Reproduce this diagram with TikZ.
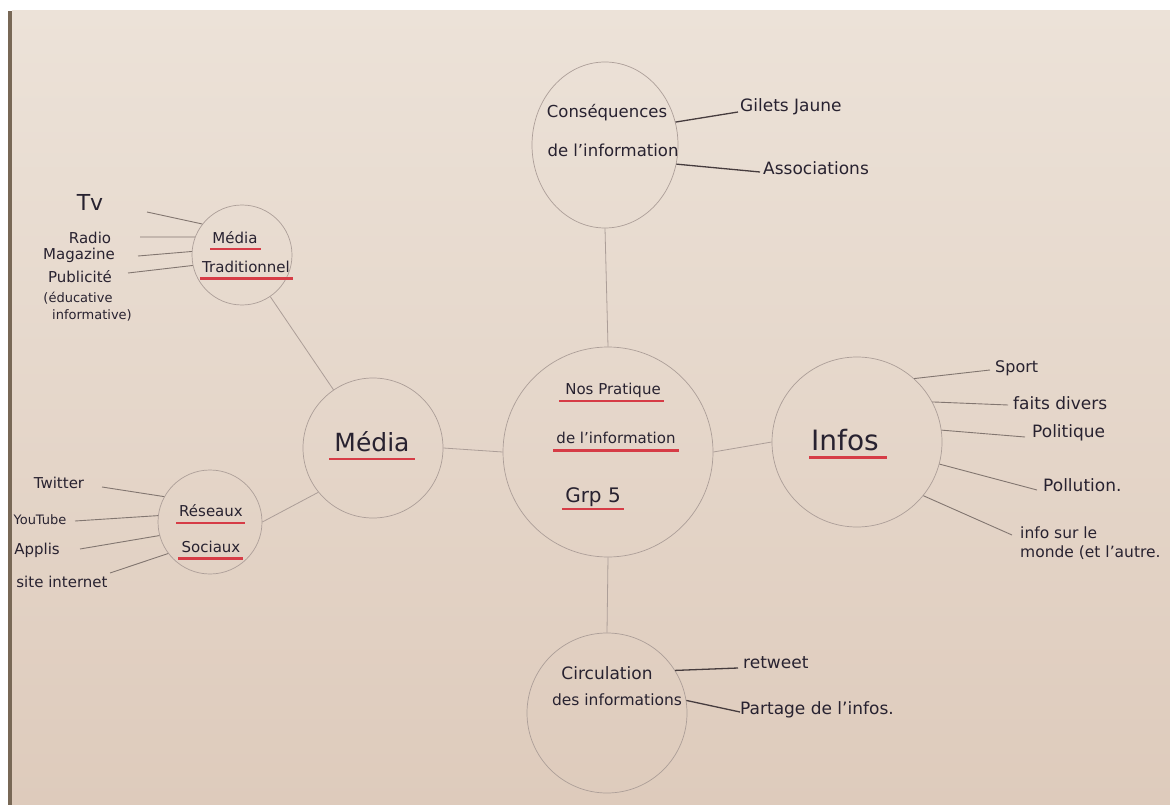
\documentclass[tikz,border=0pt]{standalone}
\usepackage{fontspec}
\setmainfont{DejaVu Sans}
\usetikzlibrary{calc,shapes.geometric}
\definecolor{paperT}{RGB}{236,226,216}
\definecolor{paperM}{RGB}{238,229,223}
\definecolor{paperB}{RGB}{222,203,188}
\definecolor{edgec}{RGB}{120,104,86}
\definecolor{circc}{RGB}{172,158,152}
\definecolor{leafc}{RGB}{130,118,112}
\definecolor{darkc}{RGB}{70,60,62}
\definecolor{inkc}{RGB}{40,34,48}
\definecolor{redc}{RGB}{214,60,70}
\newcommand\myfs[1]{\fontsize{#1}{#1}\selectfont}
\begin{document}
\begin{tikzpicture}[x=1pt,y=-1pt,
  circ/.style={circle, draw=circc, line width=0.7pt, inner sep=0pt, minimum size=#1},
  txt/.style={text=inkc, inner sep=0pt, font=\myfs{#1}},
  txt/.default=15,
  leaf/.style={draw=leafc, line width=0.9pt},
  dleaf/.style={draw=darkc, line width=1.3pt},
  link/.style={draw=circc, line width=0.8pt},
  redul/.style={draw=redc, line width=2.2pt}]
% background
\fill[white] (0,0) rectangle (1170,805);
\shade[top color=paperT, middle color=paperM, bottom color=paperB] (12,11) rectangle (1170,805);
\fill[edgec] (8,11) rectangle (12,805);
\useasboundingbox (0,0) rectangle (1170,805);

% circles
\node[circ=210] (C) at (608,452) {};
\node[ellipse, draw=circc, line width=0.7pt, inner sep=0pt, minimum width=146, minimum height=166] (K) at (605,145) {};
\node[circ=160] (Ci) at (607,713) {};
\node[circ=140] (Me) at (373,448) {};
\node[circ=100] (MT) at (242,255) {};
\node[circ=104] (RS) at (210,522) {};
\node[circ=170] (In) at (857,442) {};

% links between circles
\draw[link] (C.north) -- (K.south);
\draw[link] (C.south) -- (Ci.north);
\draw[link] (C.west) -- (Me.east);
\draw[link] (C.east) -- (In.west);
\draw[link] (MT) -- (Me);
\draw[link] (RS.east) -- (Me.219);

% central texts
\node[txt=15] (c1) at (613,390) {Nos Pratique};
\node[txt=15] (c2) at (616,438) {de l'information};
\node[txt=20] (c3) at (593,497) {Grp 5};
\draw[redul] ($(c1.base west)+(-6,7)$) -- ($(c1.base east)+(3,7)$);
\draw[redul] ($(c2.base west)+(-3,7)$) -- ($(c2.base east)+(3,7)$);
\draw[redul] ($(c3.base west)+(-3,7)$) -- ($(c3.base east)+(3,7)$);

% Média
\node[txt=25] (me) at (372,442) {Média};
\draw[redul] ($(me.base west)+(-5,7)$) -- ($(me.base east)+(5,7)$);

% Infos
\node[txt=28] (inf) at (845,440) {Infos};
\draw[redul] ($(inf.base west)+(-2,7)$) -- ($(inf.base east)+(8,7)$);

% Conséquences
\node[txt=16.5] (k1) at (607,113) {Conséquences};
\node[txt=16.5] (k2) at (613,150) {de l'information};
\node[txt=17, anchor=west] (gj) at (740,107) {Gilets Jaune};
\node[txt=17, anchor=west] (as) at (763,168) {Associations};
\coordinate (gjL) at (738,112);
\coordinate (asL) at (760,172);
\draw[dleaf] (K.18) -- (gjL);
\draw[dleaf] (K.-15) -- (asL);

% Circulation
\node[txt=17] (ci1) at (607,673) {Circulation};
\node[txt=15.5] (ci2) at (617,700) {des informations};
\node[txt=17, anchor=west] (rt) at (743,663) {retweet};
\node[txt=17, anchor=west] (pa) at (740,710) {Partage de l'infos.};
\coordinate (rtL) at (738,668);
\coordinate (paL) at (740,712);
\draw[dleaf] (Ci.32) -- (rtL);
\draw[dleaf] (Ci.9.5) -- (paL);

% Infos leaves
\node[txt=16, anchor=west] (sp) at (995,368) {Sport};
\node[txt=17, anchor=west] (fd) at (1013,403) {faits divers};
\node[txt=17, anchor=west] (po) at (1032,433) {Politique};
\node[txt=17, anchor=west] (pl) at (1043,485) {Pollution.};
\node[txt=15.5, anchor=west, align=left] (is) at (1020,543) {info sur le\\[4pt]monde (et l'autre.};
\coordinate (spL) at (990,370);
\coordinate (fdL) at (1008,405);
\coordinate (poL) at (1025,437);
\coordinate (plL) at (1037,490);
\coordinate (isL) at (1012,535);
\draw[leaf] (In.48) -- (spL);
\draw[leaf] (In.28) -- (fdL);
\draw[leaf] (In.8) -- (poL);
\draw[leaf] (In.-15) -- (plL);
\draw[leaf] (In.-39) -- (isL);

% Média traditionnel
\node[txt=15] (mt1) at (235,238) {Média};
\node[txt=15] (mt2) at (246,267) {Traditionnel};
\draw[redul] ($(mt1.base west)+(-2,5)$) -- ($(mt1.base east)+(3,5)$);
\draw[redul] ($(mt2.base west)+(-2,6)$) -- ($(mt2.base east)+(3,6)$);
\node[txt=22] (tv) at (90,202) {Tv};
\node[txt=15] (ra) at (90,238) {Radio};
\node[txt=15] (ma) at (79,255) {Magazine};
\node[txt=15] (pu) at (80,277) {Publicité};
\node[txt=13] (ed) at (78,298) {(éducative};
\node[txt=13] (io) at (92,315) {informative)};
\coordinate (tvL) at (147,212);
\coordinate (raL) at (140,237);
\coordinate (maL) at (138,256);
\coordinate (puL) at (128,273);
\draw[leaf] (MT.142) -- (tvL);
\draw[leaf] (MT.159) -- (raL);
\draw[leaf] (MT.176) -- (maL);
\draw[leaf] (MT.192) -- (puL);

% Réseaux sociaux
\node[txt=15] (rs1) at (211,511) {Réseaux};
\node[txt=15] (rs2) at (211,547) {Sociaux};
\draw[redul] ($(rs1.base west)+(-3,6)$) -- ($(rs1.base east)+(2,6)$);
\draw[redul] ($(rs2.base west)+(-3,6)$) -- ($(rs2.base east)+(2,6)$);
\node[txt=15] (tw) at (59,483) {Twitter};
\node[txt=13] (yt) at (40,520) {YouTube};
\node[txt=15] (ap) at (37,550) {Applis};
\node[txt=15] (si) at (62,582) {site internet};
\coordinate (twL) at (102,487);
\coordinate (ytL) at (75,521);
\coordinate (apL) at (80,549);
\coordinate (siL) at (110,573);
\draw[leaf] (RS.151) -- (twL);
\draw[leaf] (RS.173) -- (ytL);
\draw[leaf] (RS.195) -- (apL);
\draw[leaf] (RS.217) -- (siL);
\end{tikzpicture}
\end{document}
